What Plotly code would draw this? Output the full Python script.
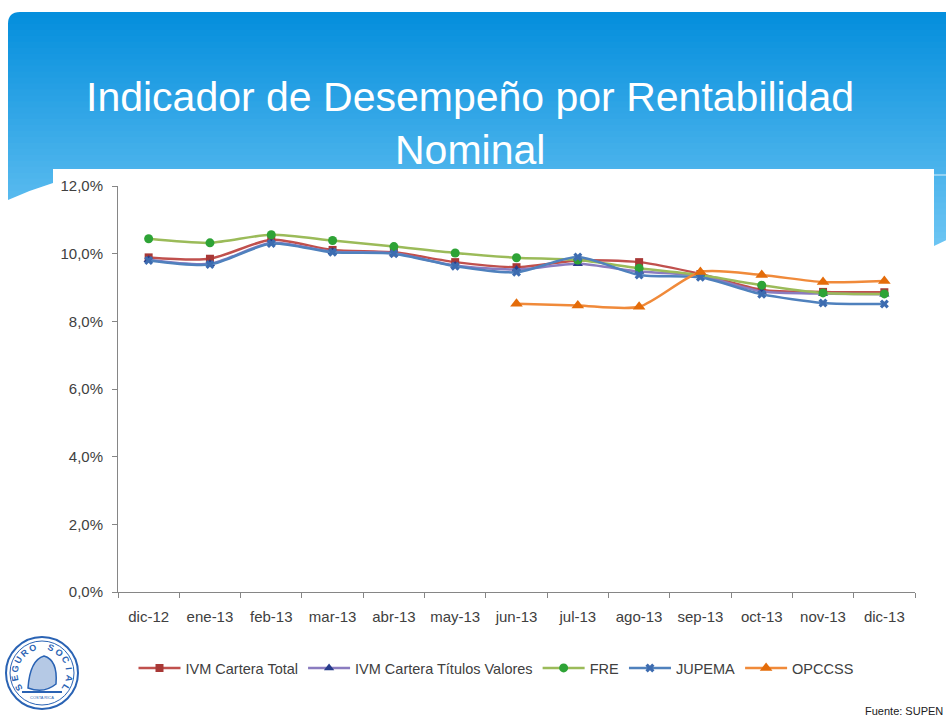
import math
import plotly.graph_objects as go

# ---------------- data ----------------
months = ["dic-12", "ene-13", "feb-13", "mar-13", "abr-13", "may-13", "jun-13",
          "jul-13", "ago-13", "sep-13", "oct-13", "nov-13", "dic-13"]
ivm_total = [9.89, 9.85, 10.41, 10.11, 10.04, 9.75, 9.60, 9.80, 9.75, 9.40, 8.93, 8.87, 8.86]
ivm_titulos = [9.82, 9.70, 10.32, 10.06, 10.01, 9.65, 9.53, 9.70, 9.47, 9.35, 8.88, 8.82, 8.80]
fre = [10.44, 10.32, 10.56, 10.39, 10.21, 10.02, 9.88, 9.81, 9.57, 9.37, 9.07, 8.84, 8.81]
jupema = [9.80, 9.68, 10.30, 10.04, 10.00, 9.63, 9.45, 9.90, 9.37, 9.30, 8.80, 8.54, 8.51]
opccss = [None, None, None, None, None, None, 8.52, 8.47, 8.43, 9.46, 9.37, 9.16, 9.19]
y_ticks = [0, 2, 4, 6, 8, 10, 12]
y_tick_labels = ["0,0%", "2,0%", "4,0%", "6,0%", "8,0%", "10,0%", "12,0%"]

W, H = 946, 719
ML, MR, MT, MB = 118, 31, 186, 127
PW, PH = W - ML - MR, H - MT - MB


def fx(px):
    return (px - ML) / PW


def fy(py):
    return (H - MB - py) / PH


FONT = "Liberation Sans, Arial, sans-serif"
TXT = "#404040"

fig = go.Figure()

series = [
    ("IVM Cartera Total", ivm_total, "#C0504D", "#A83836", "square", 8),
    ("IVM Cartera Títulos Valores", ivm_titulos, "#8A7CC0", "#283C8C", "triangle-up", 9),
    ("FRE", fre, "#9BBB59", "#2EA336", "circle", 9),
    ("JUPEMA", jupema, "#4F81BD", "#3D6CB0", "x", 8),
    ("OPCCSS", opccss, "#F08A3A", "#E46C0A", "triangle-up", 11),
]
for name, vals, lc, mc, sym, ms in series:
    fig.add_trace(go.Scatter(
        x=months, y=vals, name=name, mode="lines+markers",
        line=dict(color=lc, width=2.5, shape="spline", smoothing=0.7),
        marker=dict(color=mc, symbol=sym, size=ms, line=dict(width=0)),
        connectgaps=False,
    ))

shapes = []
# header gradient bands
top, bot = 12, 250
c0 = (5, 143, 221)
c1 = (110, 198, 244)
n = 40
for i in range(n):
    t = i / (n - 1)
    col = tuple(int(c0[k] + (c1[k] - c0[k]) * t) for k in range(3))
    y0 = top + (bot - top) * i / n
    y1 = top + (bot - top) * (i + 1) / n + 0.8
    shapes.append(dict(type="rect", xref="paper", yref="paper",
                       x0=fx(8), x1=fx(W + 5), y0=fy(y1), y1=fy(y0),
                       fillcolor="rgb(%d,%d,%d)" % col, line=dict(width=0), layer="below"))
# rounded top-left corner mask
r = 12
path = "M %f,%f L %f,%f L %f,%f Q %f,%f %f,%f Z" % (
    fx(7), fy(11), fx(8 + r), fy(11), fx(8 + r), fy(12),
    fx(8), fy(12), fx(8), fy(12 + r))
shapes.append(dict(type="path", xref="paper", yref="paper", path=path,
                   fillcolor="white", line=dict(width=0), layer="below"))
shapes.append(dict(type="rect", xref="paper", yref="paper",
                   x0=fx(7), x1=fx(8), y0=fy(bot), y1=fy(11),
                   fillcolor="white", line=dict(width=0), layer="below"))
# white chart panel
shapes.append(dict(type="rect", xref="paper", yref="paper",
                   x0=fx(53), x1=fx(934), y0=fy(H + 5), y1=fy(169),
                   fillcolor="white", line=dict(width=0), layer="below"))
# left swoosh mask
path = "M %f,%f Q %f,%f %f,%f L %f,%f L %f,%f L %f,%f Z" % (
    fx(8), fy(200), fx(30), fy(190), fx(53), fy(183),
    fx(53), fy(bot + 2), fx(0), fy(bot + 2), fx(0), fy(200))
shapes.append(dict(type="path", xref="paper", yref="paper", path=path,
                   fillcolor="white", line=dict(width=0), layer="below"))
# right side mask
path = "M %f,%f L %f,%f L %f,%f L %f,%f Z" % (
    fx(934), fy(246), fx(W + 5), fy(238), fx(W + 5), fy(bot + 2), fx(934), fy(bot + 2))
shapes.append(dict(type="path", xref="paper", yref="paper", path=path,
                   fillcolor="white", line=dict(width=0), layer="below"))
shapes.append(dict(type="line", xref="paper", yref="paper",
                   x0=fx(934), x1=fx(W + 5), y0=fy(175), y1=fy(175),
                   line=dict(color="rgba(255,255,255,0.8)", width=1), layer="below"))

# logo
cx, cy, rad = 42, 673, 36
shapes.append(dict(type="circle", xref="paper", yref="paper",
                   x0=fx(cx - rad), x1=fx(cx + rad), y0=fy(cy + rad), y1=fy(cy - rad),
                   line=dict(color="#2A63B4", width=2), fillcolor="white"))
shapes.append(dict(type="circle", xref="paper", yref="paper",
                   x0=fx(cx - rad + 4), x1=fx(cx + rad - 4), y0=fy(cy + rad - 4), y1=fy(cy - rad + 4),
                   line=dict(color="#2A63B4", width=1)))
path = "M %f,%f Q %f,%f %f,%f Q %f,%f %f,%f Q %f,%f %f,%f Z" % (
    fx(28), fy(688), fx(30), fy(660), fx(44), fy(656),
    fx(58), fy(660), fx(56), fy(684), fx(44), fy(694), fx(28), fy(688))
shapes.append(dict(type="path", xref="paper", yref="paper", path=path,
                   fillcolor="rgba(42,99,180,0.35)", line=dict(color="#2A63B4", width=1.5)))
shapes.append(dict(type="line", xref="paper", yref="paper",
                   x0=fx(22), x1=fx(62), y0=fy(692), y1=fy(692),
                   line=dict(color="#2A63B4", width=2)))

annotations = [
    dict(text="Indicador de Desempeño por Rentabilidad", x=fx(470), y=fy(97),
         xref="paper", yref="paper", showarrow=False, xanchor="center", yanchor="middle",
         font=dict(family=FONT, size=41, color="white")),
    dict(text="Nominal", x=fx(470), y=fy(150),
         xref="paper", yref="paper", showarrow=False, xanchor="center", yanchor="middle",
         font=dict(family=FONT, size=41, color="white")),
    dict(text="Fuente: SUPEN", x=fx(945), y=fy(711),
         xref="paper", yref="paper", showarrow=False, xanchor="right", yanchor="middle",
         font=dict(family=FONT, size=11, color="#202020")),
    dict(text="COSTA RICA", x=fx(cx), y=fy(cy + 24),
         xref="paper", yref="paper", showarrow=False, xanchor="center", yanchor="middle",
         font=dict(family=FONT, size=4, color="#2A63B4")),
]
letters = "SEGURO SOCIAL"
a0, a1 = 212, -32
for i, ch in enumerate(letters):
    if ch == " ":
        continue
    th = a0 + (a1 - a0) * i / (len(letters) - 1)
    px = cx + 27 * math.cos(math.radians(th))
    py = cy - 27 * math.sin(math.radians(th))
    annotations.append(dict(text="<b>%s</b>" % ch, x=fx(px), y=fy(py), xref="paper", yref="paper",
                            showarrow=False, xanchor="center", yanchor="middle",
                            textangle=90 - th,
                            font=dict(family=FONT, size=9, color="#2A63B4")))

fig.update_layout(
    width=W, height=H,
    margin=dict(l=ML, r=MR, t=MT, b=MB, pad=0),
    paper_bgcolor="white", plot_bgcolor="rgba(0,0,0,0)",
    separators=",.",
    font=dict(family=FONT, size=12, color=TXT),
    shapes=shapes, annotations=annotations,
    legend=dict(orientation="h", x=fx(496), xanchor="center", y=fy(668), yanchor="middle",
                font=dict(family=FONT, size=14.5, color=TXT), bgcolor="rgba(0,0,0,0)",
                itemwidth=42, tracegroupgap=0),
    xaxis=dict(type="category", range=[-0.5, 12.5], showline=True, linecolor="#868686",
               linewidth=1, ticks="outside", tickson="boundaries", ticklen=5, tickcolor="#868686",
               showgrid=False, zeroline=False, tickfont=dict(size=15, color=TXT),
               ticklabelstandoff=11, fixedrange=True),
    yaxis=dict(range=[0, 12], tickvals=y_ticks, ticktext=y_tick_labels,
               showline=True, linecolor="#868686", linewidth=1, ticks="outside", ticklen=5,
               tickcolor="#868686", showgrid=False, zeroline=False,
               tickfont=dict(size=15, color=TXT), ticklabelstandoff=6, fixedrange=True),
)

fig.write_html("out.html", config={"displayModeBar": False},
               post_script="document.body.style.margin='0px';")
